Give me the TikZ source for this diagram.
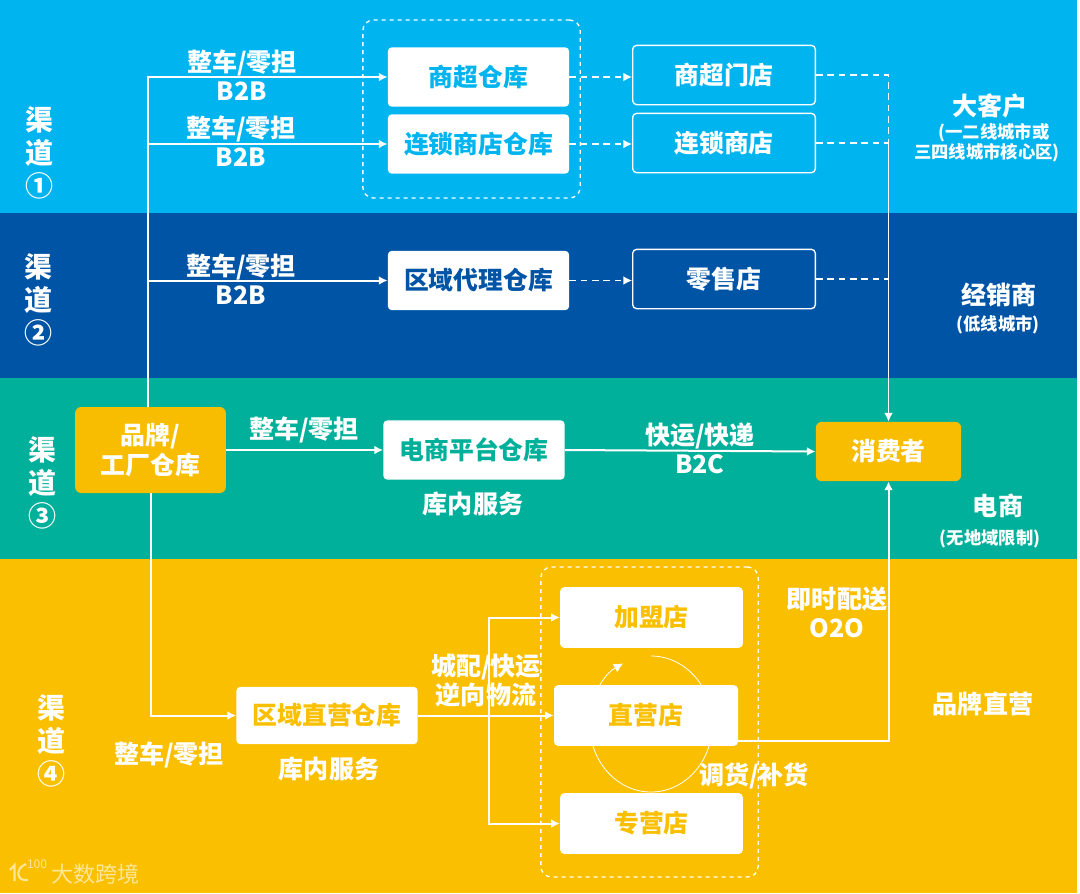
\documentclass[tikz,border=0pt]{standalone}
\usepackage{fontspec}
\setmainfont{Noto Sans CJK SC}
\usetikzlibrary{arrows.meta}
\definecolor{bandA}{HTML}{00B4EF}
\definecolor{bandB}{HTML}{0054A6}
\definecolor{bandC}{HTML}{00B09A}
\definecolor{bandD}{HTML}{FAC000}
\definecolor{amber}{HTML}{F9BD00}
\tikzset{
	lbl/.style={text=white, align=center, inner sep=0pt, font=\bfseries\fontsize{18.8}{21.75}\selectfont},
	small/.style={text=white, align=center, inner sep=0pt, font=\bfseries\fontsize{13}{15.75}\selectfont},
	chan/.style={text=white, align=center, inner sep=0pt, font=\bfseries\fontsize{21}{25}\selectfont},
	whbox/.style={fill=white, text=#1, rounded corners=3pt, inner sep=0pt, minimum width=136pt, minimum height=44.5pt, font=\bfseries\fontsize{18.6}{22}\selectfont},
	shopbox/.style={draw=white, line width=1pt, text=white, rounded corners=3pt, inner sep=0pt, minimum width=137pt, minimum height=44.5pt, font=\bfseries\fontsize{18.6}{22}\selectfont},
	amberbox/.style={fill=amber, text=white, rounded corners=4.5pt, inner sep=0pt, align=center, font=\bfseries\fontsize{18.6}{22}\selectfont},
	grpbox/.style={draw=white, dashed, line width=1pt, rounded corners=8pt, inner sep=0pt},
	flow/.style={white, line width=1.5pt, -{Latex[length=6.5pt,width=6.5pt]}},
	dflow/.style={white, line width=1pt, dash pattern=on 5pt off 3.5pt, -{Latex[length=6.5pt,width=6.5pt]}},
	dline/.style={white, line width=1pt, dash pattern=on 5pt off 3.5pt},
	marktext/.style={text=white, opacity=0.6, inner sep=0pt},
	markline/.style={white, opacity=0.6, line width=1.6pt},
}
\begin{document}
\begin{tikzpicture}[x=0.75pt,y=-0.75pt]
	\useasboundingbox (0,0) rectangle (1080,893);
	% bands
	\fill[bandA] (0,0) rectangle (1077,213);
	\fill[bandB] (0,213) rectangle (1077,378);
	\fill[bandC] (0,378) rectangle (1077,559);
	\fill[bandD] (0,559) rectangle (1077,893);
	% transfer ring behind the shops
	\coordinate (ringtop) at (651,656);
	\draw[white, line width=0.6pt, -{Latex[length=7pt,width=7pt]}] (ringtop) arc[start angle=90, end angle=-243, x radius=46pt, y radius=51pt];
	% groups
	\node[grpbox, minimum width=163pt, minimum height=133.5pt] (groupA) at (471.5,109) {};
	\node[grpbox, minimum width=163pt, minimum height=232.5pt] (groupB) at (649.5,722) {};
	% warehouses
	\node[amberbox, minimum width=113pt, minimum height=64.5pt] (brand) at (150.5,450) {品牌/\\工厂仓库};
	\node[whbox=bandA] (scwh) at (478.5,77) {商超仓库};
	\node[whbox=bandA] (chainwh) at (478.5,144) {连锁商店仓库};
	\node[whbox=bandB] (agentwh) at (478.5,280.5) {区域代理仓库};
	\node[whbox=bandC] (ecwh) at (474,450) {电商平台仓库};
	\node[whbox=bandD, minimum height=43pt] (regwh) at (327,715.5) {区域直营仓库};
	% shops
	\node[shopbox] (scshop) at (724,75) {商超门店};
	\node[shopbox] (chainshop) at (724,143) {连锁商店};
	\node[shopbox] (retail) at (724,279) {零售店};
	\node[whbox=bandD, minimum width=137pt, minimum height=45.5pt] (joinshop) at (651.5,617.5) {加盟店};
	\node[whbox=bandD, minimum width=138pt, minimum height=45.5pt] (ownshop) at (646,715.5) {直营店};
	\node[whbox=bandD, minimum width=137pt, minimum height=45.5pt] (specshop) at (651.5,823.5) {专营店};
	\node[amberbox, minimum width=109pt, minimum height=44.5pt] (consumer) at (888.5,451.5) {消费者};
	% trunk to the channel warehouses
	\draw[flow] ([xshift=-2pt]brand.north) |- (scwh.west);
	\draw[flow] ([xshift=-2pt]brand.north) |- (chainwh.west);
	\draw[flow] ([xshift=-2pt]brand.north) |- (agentwh.west);
	\draw[flow] (brand.east) -- (ecwh.west);
	\draw[flow] (ecwh.east) -- (consumer.west);
	\draw[flow] (brand.south) |- (regwh.west);
	% dashed links
	\draw[dflow] (scwh.east) -- (scwh.east -| scshop.west);
	\draw[dflow] (chainwh.east) -- (chainwh.east -| chainshop.west);
	\draw[dflow] (agentwh.east) -- (agentwh.east -| retail.west);
	\coordinate (joint) at (consumer.north |- chainshop.east);
	\draw[dline] (scshop.east) -| (joint);
	\draw[dline] (chainshop.east) -- (joint);
	\draw[dline] (retail.east) -- (retail.east -| consumer.north);
	\draw[flow, line width=1pt] (joint) -- (consumer.north);
	% regional fan out
	\coordinate (fork) at (489,715.5);
	\draw[flow] (regwh.east) -- (ownshop.west);
	\draw[flow] (fork) |- (joinshop.west);
	\draw[flow] (fork) |- (specshop.west);
	\draw[flow] ([yshift=-19pt]ownshop.east) -| (consumer.south);
	% channel names
	\node[chan] (chanA) at (40,153) {渠\\道\\①};
	\node[chan] (chanB) at (38,300) {渠\\道\\②};
	\node[chan] (chanC) at (42,483) {渠\\道\\③};
	\node[chan] (chanD) at (51,741) {渠\\道\\④};
	% link labels
	\node[lbl] (tagA) at (242,75.5) {整车/零担\\B2B};
	\node[lbl] (tagB) at (241,141.5) {整车/零担\\B2B};
	\node[lbl] (tagC) at (241,279) {整车/零担\\B2B};
	\node[lbl] (tagD) at (304,430) {整车/零担};
	\node[lbl] (tagE) at (700,448) {快运/快递\\B2C};
	\node[lbl] (tagF) at (473,504) {库内服务};
	\node[lbl] (tagG) at (329,769) {库内服务};
	\node[lbl] (tagH) at (169,755) {整车/零担};
	\node[lbl] (tagI) at (486,680) {城配/快运\\逆向物流};
	\node[lbl] (tagJ) at (837,612) {即时配送\\O2O};
	\node[lbl] (tagK) at (754,776) {调货/补货};
	% right column
	\node[lbl] (custA) at (990,106) {大客户};
	\node[small] (custAnote) at (994,133) {(一二线城市或};
	\node[small] (custAmore) at (987,153) {三四线城市核心区)};
	\node[lbl] (custB) at (999,295) {经销商};
	\node[small] (custBnote) at (998,325) {(低线城市)};
	\node[lbl] (custC) at (998,506) {电商};
	\node[small] (custCnote) at (990,539) {(无地域限制)};
	\node[lbl] (custD) at (983,704) {品牌直营};
	% watermark
	\node[marktext, font=\fontsize{16.5}{18}\selectfont] (markname) at (95,874) {大数跨境};
	\node[marktext, font=\fontsize{9}{10}\selectfont] (markno) at (37,864) {100};
	\draw[markline] (10,870) -- (14.5,865) -- (14.5,881);
	\draw[markline] (26,864) .. controls (15,868) and (16,882) .. (28,880);
\end{tikzpicture}
\end{document}
